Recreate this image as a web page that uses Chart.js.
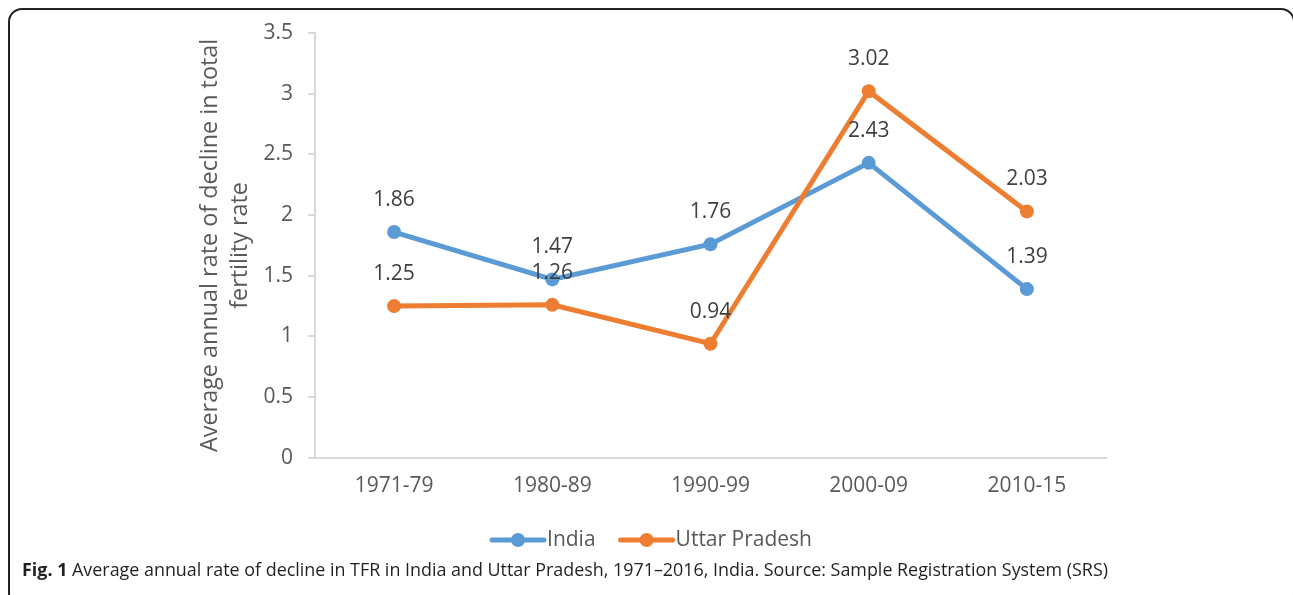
<!DOCTYPE html>
<html>
<head>
<meta charset="utf-8">
<script src="https://cdn.jsdelivr.net/npm/chart.js@4.4.1/dist/chart.umd.min.js"></script>
<style>
  html, body { margin: 0; padding: 0; background: #fff; width: 1293px; height: 595px; overflow: hidden; }
  #frame { position: absolute; left: 8px; top: 8px; width: 1287px; height: 600px; border: 2px solid #222; border-radius: 14px; box-sizing: border-box; }
  #wrap { position: absolute; left: 0; top: 0; width: 1293px; height: 595px; }
  #caption { position: absolute; left: 22px; top: 557px; font-family: "Open Sans", sans-serif; font-size: 17.9px; color: #231f20; white-space: nowrap; }
  #caption b { font-weight: 700; }
</style>
</head>
<body>
<div id="frame"></div>
<div id="wrap"><canvas id="c" width="1293" height="595"></canvas></div>
<div id="caption"><b>Fig. 1</b> Average annual rate of decline in TFR in India and Uttar Pradesh, 1971–2016, India. Source: Sample Registration System (SRS)</div>
<script>
const categories = ["1971-79", "1980-89", "1990-99", "2000-09", "2010-15"];
const indiaValues = [1.86, 1.47, 1.76, 2.43, 1.39];
const upValues = [1.25, 1.26, 0.94, 3.02, 2.03];
const seriesNames = ["India", "Uttar Pradesh"];
const yTitle = ["Average annual rate of decline in total", "fertility rate"];

const BLUE = "#5b9bd5";
const ORANGE = "#ed7d31";
const FONT = "'Open Sans', sans-serif";

const dataLabels = {
  id: "dataLabels",
  afterDatasetsDraw(chart) {
    const ctx = chart.ctx;
    ctx.save();
    ctx.font = "21px " + FONT;
    ctx.fillStyle = "#404040";
    ctx.textAlign = "center";
    ctx.textBaseline = "middle";
    chart.data.datasets.forEach((ds, i) => {
      const meta = chart.getDatasetMeta(i);
      meta.data.forEach((pt, j) => {
        ctx.fillText(ds.data[j].toFixed(2), pt.x, pt.y - 32);
      });
    });
    ctx.restore();
  }
};

const customLegend = {
  id: "customLegend",
  afterDraw(chart) {
    const ctx = chart.ctx;
    ctx.save();
    ctx.font = "21px " + FONT;
    const y = 540;
    const lineW = 56, gap = 1, itemGap = 23;
    const items = chart.data.datasets.map(d => ({label: d.label, color: d.borderColor, w: lineW + gap + ctx.measureText(d.label).width}));
    const total = items.reduce((s, it) => s + it.w, 0) + itemGap * (items.length - 1);
    let x = 651 - total / 2;
    items.forEach(it => {
      ctx.strokeStyle = it.color;
      ctx.lineWidth = 5;
      ctx.lineCap = "round";
      ctx.beginPath();
      ctx.moveTo(x + 2, y);
      ctx.lineTo(x + lineW - 2, y);
      ctx.stroke();
      ctx.fillStyle = it.color;
      ctx.beginPath();
      ctx.arc(x + lineW / 2, y, 7, 0, Math.PI * 2);
      ctx.fill();
      ctx.fillStyle = "#595959";
      ctx.textAlign = "left";
      ctx.textBaseline = "middle";
      ctx.fillText(it.label, x + lineW + gap, y);
      x += it.w + itemGap;
    });
    ctx.restore();
  }
};

new Chart(document.getElementById("c"), {
  type: "line",
  data: {
    labels: categories,
    datasets: [
      { label: seriesNames[0], data: indiaValues, borderColor: BLUE, backgroundColor: BLUE, borderWidth: 5, pointRadius: 7, pointBackgroundColor: BLUE, pointBorderWidth: 0, tension: 0, order: 1 },
      { label: seriesNames[1], data: upValues, borderColor: ORANGE, backgroundColor: ORANGE, borderWidth: 5, pointRadius: 7, pointBackgroundColor: ORANGE, pointBorderWidth: 0, tension: 0, order: 0 }
    ]
  },
  options: {
    responsive: false,
    animation: false,
    devicePixelRatio: 1,
    layout: { padding: { left: 195, right: 187, top: 33, bottom: 80 } },
    plugins: { legend: { display: false }, tooltip: { enabled: false } },
    scales: {
      x: {
        offset: true,
        grid: { display: false, drawTicks: false },
        border: { display: true, color: "#d9d9d9", width: 2 },
        ticks: { color: "#595959", font: { family: FONT, size: 21 }, padding: 16, maxRotation: 0 }
      },
      y: {
        min: 0, max: 3.5,
        afterFit(s) { s.width = 120; },
        grid: { drawOnChartArea: false, drawTicks: true, tickLength: 7, color: "#d9d9d9", lineWidth: 2 },
        border: { display: true, color: "#d9d9d9", width: 2 },
        ticks: { stepSize: 0.5, color: "#595959", font: { family: FONT, size: 21 }, padding: 15, callback: v => String(Math.round(v * 10) / 10) },
        title: { display: true, text: yTitle, color: "#595959", font: { family: FONT, size: 23.4, lineHeight: 1.28 }, padding: { top: 0, bottom: 0 } }
      }
    }
  },
  plugins: [dataLabels, customLegend]
});
</script>
</body>
</html>
